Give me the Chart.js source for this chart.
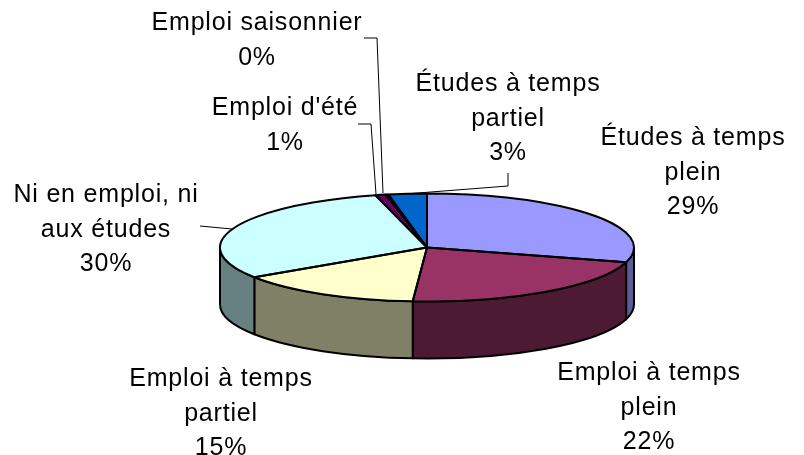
<!DOCTYPE html>
<html><head><meta charset="utf-8">
<style>html,body{margin:0;padding:0;background:#fff}canvas{display:block}</style>
<script src="https://cdn.jsdelivr.net/npm/chart.js@4"></script>
</head><body><canvas id="c" width="804" height="455"></canvas>
<script>
const categories = ["Études à temps plein","Emploi à temps plein","Emploi à temps partiel","Ni en emploi, ni aux études","Emploi d'été","Emploi saisonnier","Études à temps partiel"];
const values = [29.4,21.7,14.6,30.3,0.8,0.2,3];
const topColors = ["#9999FF","#993366","#FFFFCC","#CCFFFF","#660066","#FF8080","#0066CC"];
const sideColors = ["#5C5C99","#4D1A33","#808066","#668080","#330033","#804040","#003366"];

const labelLines = [
  ["Études à temps","plein"],["Emploi à temps","plein"],["Emploi à temps","partiel"],
  ["Ni en emploi, ni","aux études"],["Emploi d'été"],["Emploi saisonnier"],["Études à temps","partiel"]
];
const labelCenterX = [693,649,221,106,285,257,508];
const labelBaseY = [145,380,386,202,115,30,91];
const leaders = [null,null,null,[[200,226],[232,229]],[[358,124],[371,124],[376,194]],[[364,38],[377,38],[383,193]],[[508,173],[508,186],[405,194]]];

const cyTop = 247.5, ry = 54, depth = 57, lineH = 34.6;

function withTilt(ctx, arc, fn){
  const k = ry / arc.outerRadius;
  ctx.save();
  ctx.translate(0, cyTop);
  ctx.scale(1, k);
  ctx.translate(0, -arc.y);
  fn();
  ctx.restore();
}

const pie3d = {
  id:'pie3d',
  beforeDatasetsDraw(chart){
    const ctx = chart.ctx, arcs = chart.getDatasetMeta(0).data;
    ctx.save();
    ctx.lineWidth = 2; ctx.strokeStyle = '#000'; ctx.lineJoin='round';
    arcs.forEach((a,i)=>{
      const rx=a.outerRadius;
      let s=a.startAngle, e=a.endAngle;
      // visible wall: the part of the rim in the lower half of the ellipse
      const ranges=[[s,e],[s-2*Math.PI,e-2*Math.PI],[s+2*Math.PI,e+2*Math.PI]];
      ranges.forEach(([p,q])=>{
        const a0=Math.max(p,0), a1=Math.min(q,Math.PI);
        if(a1<=a0) return;
        ctx.beginPath();
        ctx.ellipse(a.x,cyTop,rx,ry,0,a0,a1);
        ctx.ellipse(a.x,cyTop+depth,rx,ry,0,a1,a0,true);
        ctx.closePath();
        ctx.fillStyle=sideColors[i];
        ctx.fill(); ctx.stroke();
      });
    });
    ctx.restore();
    const a0=arcs[0];
    ctx.save();
    ctx.translate(0,cyTop); ctx.scale(1,ry/a0.outerRadius); ctx.translate(0,-a0.y);
  },
  afterDatasetsDraw(chart){
    const ctx = chart.ctx, arcs = chart.getDatasetMeta(0).data;
    ctx.restore();
    // outlines drawn untransformed so that the pen keeps an even width
    ctx.save();
    ctx.lineWidth=2; ctx.strokeStyle='#000'; ctx.lineJoin='round';
    arcs.forEach(a=>{
      ctx.beginPath();
      withTilt(ctx,a,()=>{
        ctx.moveTo(a.x,a.y);
        ctx.arc(a.x,a.y,a.outerRadius,a.startAngle,a.endAngle);
        ctx.closePath();
      });
      ctx.stroke();
    });
    ctx.restore();
    // leader lines and labels
    ctx.save();
    ctx.strokeStyle='#000'; ctx.lineWidth=1;
    leaders.forEach(l=>{
      if(!l) return;
      ctx.beginPath();
      l.forEach((p,j)=> j?ctx.lineTo(p[0],p[1]):ctx.moveTo(p[0],p[1]));
      ctx.stroke();
    });
    ctx.fillStyle='#000';
    ctx.font='25px "Liberation Sans", Arial, sans-serif';
    ctx.textAlign='center'; ctx.textBaseline='alphabetic';
    if('letterSpacing' in ctx) ctx.letterSpacing='0.8px';
    const tot=values.reduce((x,y)=>x+y,0);
    labelLines.forEach((lines,i)=>{
      const all=[...lines,Math.round(values[i]/tot*100)+"%"];
      all.forEach((t,j)=>ctx.fillText(t,labelCenterX[i],labelBaseY[i]+j*lineH));
    });
    ctx.restore();
  }
};

new Chart(document.getElementById('c'),{
  type:'pie',
  data:{labels:categories,datasets:[{data:values,backgroundColor:topColors,borderWidth:0}]},
  options:{
    responsive:false,animation:false,
    layout:{padding:{left:220,right:170,top:20.5,bottom:20.5}},
    plugins:{legend:{display:false},tooltip:{enabled:false},title:{display:false}}
  },
  plugins:[pie3d]
});
</script></body></html>
